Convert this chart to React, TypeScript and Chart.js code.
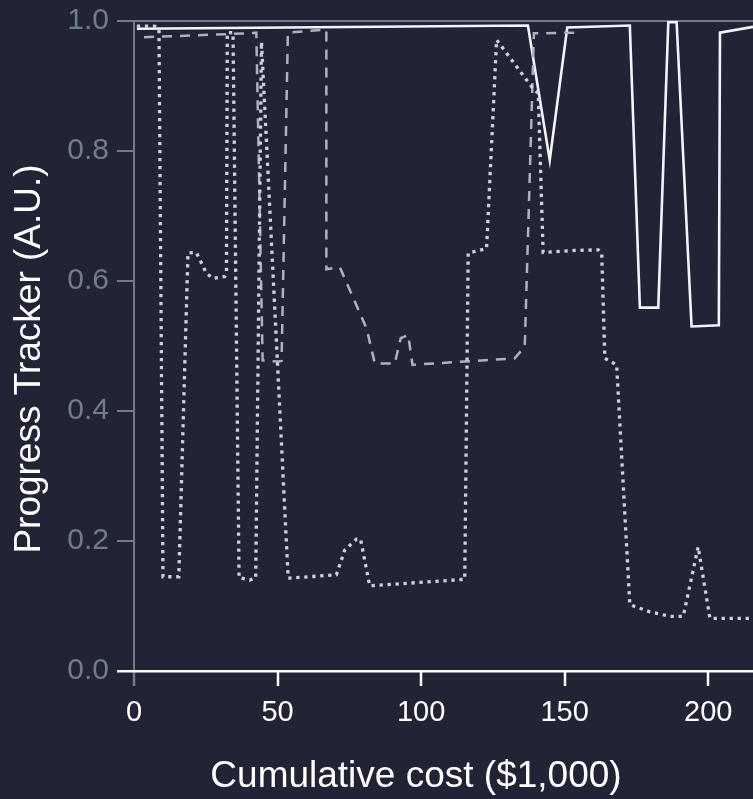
import React, { useEffect, useRef } from 'react';
import { Chart, registerables } from 'chart.js';

Chart.register(...registerables);

// ---- data ----
const xTickValues = [0, 50, 100, 150, 200];
const yTickValues = [0, 0.2, 0.4, 0.6, 0.8, 1.0];

const solidX = [1, 137.2, 144.8, 150.9, 172.7, 176.2, 182.6, 186.1, 189.0, 194.2, 203.7, 204.1, 215.6];
const solidY = [0.988, 0.993, 0.786, 0.990, 0.993, 0.559, 0.559, 0.998, 0.998, 0.530, 0.532, 0.982, 0.991];

const dashedX = [3.5, 39.2, 42.6, 44.8, 50.2, 51.4, 53.6, 67.0, 67.0, 69.9, 71.7, 81.0, 83.9, 90.8, 92.9, 95.5, 97.0, 132.6, 136.1, 139.3, 153.6, 154.1];
const dashedY = [0.975, 0.981, 0.982, 0.478, 0.476, 0.477, 0.982, 0.987, 0.618, 0.620, 0.621, 0.527, 0.473, 0.473, 0.512, 0.517, 0.471, 0.481, 0.499, 0.981, 0.982, 0.987];

const dottedX = [1.0, 7.2, 8.7, 10.1, 15.6, 18.8, 21.7, 25.2, 27.5, 31.6, 32.2, 32.5, 34.5, 36.6, 37.4, 40.3, 42.4, 44.4, 53.7, 54.3, 70.5, 73.4, 77.5, 78.9, 82.1, 115.2, 116.4, 122.8, 126.3, 139.0, 140.8, 142.5, 153.6, 161.7, 162.9, 164.0, 168.1, 172.7, 179.7, 186.7, 191.3, 196.5, 200.6, 215.6];
const dottedY = [0.992, 0.992, 0.988, 0.145, 0.145, 0.643, 0.644, 0.612, 0.604, 0.607, 0.612, 0.982, 0.982, 0.143, 0.143, 0.140, 0.143, 0.968, 0.143, 0.143, 0.148, 0.186, 0.203, 0.203, 0.131, 0.141, 0.643, 0.650, 0.971, 0.896, 0.889, 0.644, 0.647, 0.648, 0.643, 0.481, 0.471, 0.102, 0.091, 0.084, 0.084, 0.191, 0.081, 0.081];

const xTitle = 'Cumulative cost ($1,000)';
const yTitle = 'Progress Tracker (A.U.)';

// ---- style ----
const BG = '#222435';
const AXIS_GREY = '#6f7c89';
const FONT = '"Liberation Sans", Arial, sans-serif';

const pts = (xs: number[], ys: number[]) => xs.map((x, i) => ({ x, y: ys[i] }));

const decorPlugin = {
  id: 'decor',
  beforeDraw(chart: any) {
    const { ctx, width, height } = chart;
    ctx.save();
    ctx.fillStyle = BG;
    ctx.fillRect(0, 0, width, height);
    ctx.restore();
  },
  afterDraw(chart: any) {
    const { ctx } = chart;
    ctx.save();
    ctx.fillStyle = '#ffffff';
    ctx.font = `37px ${FONT}`;
    ctx.textAlign = 'center';
    ctx.textBaseline = 'middle';
    ctx.fillText(xTitle, 416, 777);
    ctx.translate(30, 359);
    ctx.rotate(-Math.PI / 2);
    ctx.fillText(yTitle, 0, 0);
    ctx.restore();
  },
};

const zeroPad = (s: any) => {
  s.paddingTop = 0;
  s.paddingBottom = 0;
  s.paddingLeft = 0;
  s.paddingRight = 0;
};

export default function App() {
  const ref = useRef<HTMLCanvasElement>(null);
  useEffect(() => {
    document.body.style.margin = '0';
    document.body.style.background = BG;
    const chart = new Chart(ref.current as HTMLCanvasElement, {
      type: 'line',
      data: {
        datasets: [
          {
            data: pts(dottedX, dottedY),
            borderColor: '#ccd0e4',
            borderWidth: 3.3,
            borderDash: [3.3, 4.7],
            pointRadius: 0,
            fill: false,
            tension: 0,
          },
          {
            data: pts(dashedX, dashedY),
            borderColor: '#adb2bd',
            borderWidth: 2.5,
            borderDash: [10, 8],
            pointRadius: 0,
            fill: false,
            tension: 0,
          },
          {
            data: pts(solidX, solidY),
            borderColor: '#f4f4f8',
            borderWidth: 2.6,
            pointRadius: 0,
            fill: false,
            tension: 0,
          },
        ],
      },
      options: {
        responsive: false,
        animation: false,
        devicePixelRatio: 1,
        layout: { padding: { top: 21, right: 0, left: 0, bottom: 0 } },
        plugins: { legend: { display: false }, tooltip: { enabled: false } },
        scales: {
          x: {
            type: 'linear',
            min: 0,
            max: 215.6,
            afterBuildTicks: (s: any) => {
              s.ticks = xTickValues.map((v) => ({ value: v }));
            },
            afterFit: (s: any) => {
              s.height = 128;
              zeroPad(s);
            },
            border: { display: false },
            grid: {
              color: (c: any) => (c.tick && c.tick.value === 0 ? AXIS_GREY : 'rgba(0,0,0,0)'),
              lineWidth: 2,
              tickColor: (c: any) => (c.tick && c.tick.value === 0 ? AXIS_GREY : '#ffffff'),
              tickWidth: 2.5,
              tickLength: 15,
            },
            ticks: {
              color: '#ffffff',
              font: { family: FONT, size: 29 },
              padding: 10,
              maxRotation: 0,
              autoSkip: false,
              callback: (v: any) => String(v),
            },
          },
          y: {
            type: 'linear',
            min: 0,
            max: 1,
            afterBuildTicks: (s: any) => {
              s.ticks = yTickValues.map((v) => ({ value: v }));
            },
            afterFit: (s: any) => {
              s.width = 134;
              zeroPad(s);
            },
            border: { display: false },
            grid: {
              color: (c: any) => {
                const v = c.tick ? c.tick.value : null;
                if (v === 0) return '#ffffff';
                if (v === 1) return AXIS_GREY;
                return 'rgba(0,0,0,0)';
              },
              lineWidth: (c: any) => (c.tick && c.tick.value === 0 ? 2.5 : 2),
              tickColor: (c: any) => (c.tick && c.tick.value === 0 ? '#ffffff' : AXIS_GREY),
              tickWidth: (c: any) => (c.tick && c.tick.value === 0 ? 2.5 : 2),
              tickLength: 17,
            },
            ticks: {
              color: AXIS_GREY,
              font: { family: FONT, size: 30 },
              padding: 8,
              autoSkip: false,
              callback: (v: any) => Number(v).toFixed(1),
            },
          },
        },
      },
      plugins: [decorPlugin],
    } as any);
    return () => chart.destroy();
  }, []);
  return (
    <canvas
      ref={ref}
      width={753}
      height={799}
      style={{ display: 'block', width: 753, height: 799 }}
    />
  );
}
